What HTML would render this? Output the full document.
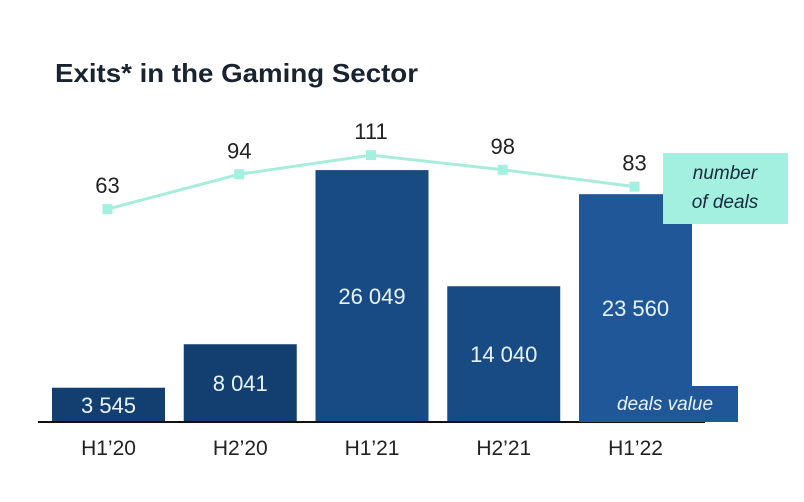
<!DOCTYPE html>
<html><head><meta charset="utf-8"><style>
body{margin:0;background:#fff;width:804px;height:497px;overflow:hidden}
svg{font-family:"Liberation Sans",sans-serif}
</style></head><body>
<svg id="chart" width="804" height="497">
<text x="55" y="82" font-size="26" font-weight="bold" fill="#1a2330" textLength="363" lengthAdjust="spacingAndGlyphs">Exits* in the Gaming Sector</text>
<g id="bars"></g>
<line x1="38" y1="422" x2="705" y2="422" stroke="#111" stroke-width="2"/>
<g id="line"></g>
<rect x="663" y="153" width="125" height="71" fill="#a3f0e1"/>
<text x="725" y="179" font-size="19" font-style="italic" fill="#1a2a3a" text-anchor="middle">number</text>
<text x="725" y="208" font-size="19" font-style="italic" fill="#1a2a3a" text-anchor="middle">of deals</text>
<rect x="579" y="386" width="159" height="36" fill="#1f5799"/>
<text x="665" y="410" font-size="19" font-style="italic" fill="#e8f4ff" text-anchor="middle">deals value</text>
</svg>
<script>
const categories=["H1’20","H2’20","H1’21","H2’21","H1’22"];
const dealValues=[3545,8041,26049,14040,23560];
const dealValueLabels=["3 545","8 041","26 049","14 040","23 560"];
const dealCounts=[63,94,111,98,83];
const NS="http://www.w3.org/2000/svg";
const base=422, bw=113, step=131.75, x0=52;
const xBar=i=>x0+i*step;
const hVal=v=>v*0.00967;
const yLine=v=>280-v*1.125;
const colors=["#133f70","#133f70","#184a84","#184a84","#1f5799"];
function mk(t,a,p){const e=document.createElementNS(NS,t);for(const k in a)e.setAttribute(k,a[k]);p.appendChild(e);return e;}
const gb=document.getElementById('bars');
dealValues.forEach((v,i)=>{
  const h=hVal(v);
  const r=mk('rect',{x:xBar(i),y:base-h,width:bw,height:h,fill:colors[i]},gb);
  
  
  const ty=Math.min(base-h/2+8, base-6);
  const t=mk('text',{x:xBar(i)+bw/2,y:ty,'font-size':22,fill:'#e8f4ff','text-anchor':'middle'},gb);
  t.textContent=dealValueLabels[i];
  
  
  const c=mk('text',{x:xBar(i)+bw/2,y:455,'font-size':21,fill:'#222','text-anchor':'middle'},gb);
  c.textContent=categories[i];
  
  
});
const gl=document.getElementById('line');
const pts=dealCounts.map((v,i)=>[xBar(i)+bw/2-1,yLine(v)]);
const pl=mk('polyline',{points:pts.map(p=>p.join(',')).join(' '),fill:'none',stroke:'#a8ecdc','stroke-width':3},gl);


pts.forEach((p,i)=>{
  const m=mk('rect',{x:p[0]-5,y:p[1]-5,width:10,height:10,fill:'#a3f0e1'},gl);
  
  
  const t=mk('text',{x:p[0],y:p[1]-16,'font-size':22,fill:'#222','text-anchor':'middle'},gl);
  t.textContent=dealCounts[i];
  
  
});
</script>
</body></html>
